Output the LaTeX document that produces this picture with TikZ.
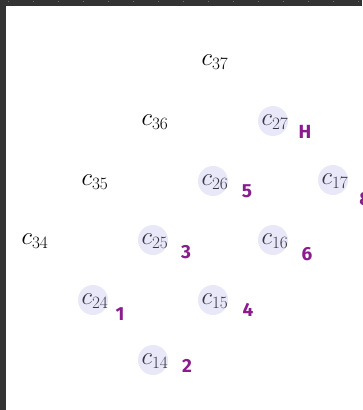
\documentclass[tikz,border=0pt]{standalone}
\usepackage{fontspec}
\newfontfamily\tagfont{Fira Sans}
\usepackage{xcolor}
\definecolor{cFrame}{HTML}{333333}
\definecolor{cTick}{HTML}{6E6E6E}
\definecolor{cHalo}{HTML}{B2B2E8}
\definecolor{cPen}{HTML}{8A1C8E}
\usepackage{tikz}
\tikzset{
  cell/.style={inner sep=0pt,font=\fontsize{24}{28}\selectfont},
  halo/.style={fill=cHalo,draw=none,opacity=0.3},
  pentag/.style={inner sep=0pt,text=cPen,font=\tagfont\bfseries\fontsize{19}{21}\selectfont},
}

\begin{document}
\begin{tikzpicture}[x=1pt,y=-1pt]
  \useasboundingbox (0,0) rectangle (362,410);
  % window frame
  \fill[cFrame] (0,0) rectangle (362,6);
  \fill[cFrame] (0,0) rectangle (6,410);
  \foreach \t in {8,33,...,358}
    \fill[cTick] (\t,1) rectangle ++(1,1.2);
  % lattice
  \node[cell] (c37) at (215,62)  {$c_{37}$};
  \node[cell] (c36) at (155,122) {$c_{36}$};
  \node[cell] (c27) at (275,122) {$c_{27}$};
  \node[cell] (c35) at (95,182)  {$c_{35}$};
  \node[cell] (c26) at (215,182) {$c_{26}$};
  \node[cell] (c17) at (335,181) {$c_{17}$};
  \node[cell] (c34) at (35,241)  {$c_{34}$};
  \node[cell] (c25) at (155,241) {$c_{25}$};
  \node[cell] (c16) at (275,241) {$c_{16}$};
  \node[cell] (c24) at (95,301)  {$c_{24}$};
  \node[cell] (c15) at (215,301) {$c_{15}$};
  \node[cell] (c14) at (155,361) {$c_{14}$};
  % highlighted cells
  \foreach \n in {c24,c14,c25,c15,c26,c16,c27,c17}
    \fill[halo] ([xshift=-2pt,yshift=1pt]\n.center) circle (15);
  % hand-written order
  \node[pentag] (t1) at (120,314) {1};
  \node[pentag] (t2) at (187,366) {2};
  \node[pentag] (t3) at (186,252) {3};
  \node[pentag] (t4) at (248,310) {4};
  \node[pentag] (t5) at (247,191) {5};
  \node[pentag] (t6) at (307,254) {6};
  \node[pentag] (t7) at (305,132) {H};
  \node[pentag] (t8) at (365,199) {8};
\end{tikzpicture}
\end{document}
